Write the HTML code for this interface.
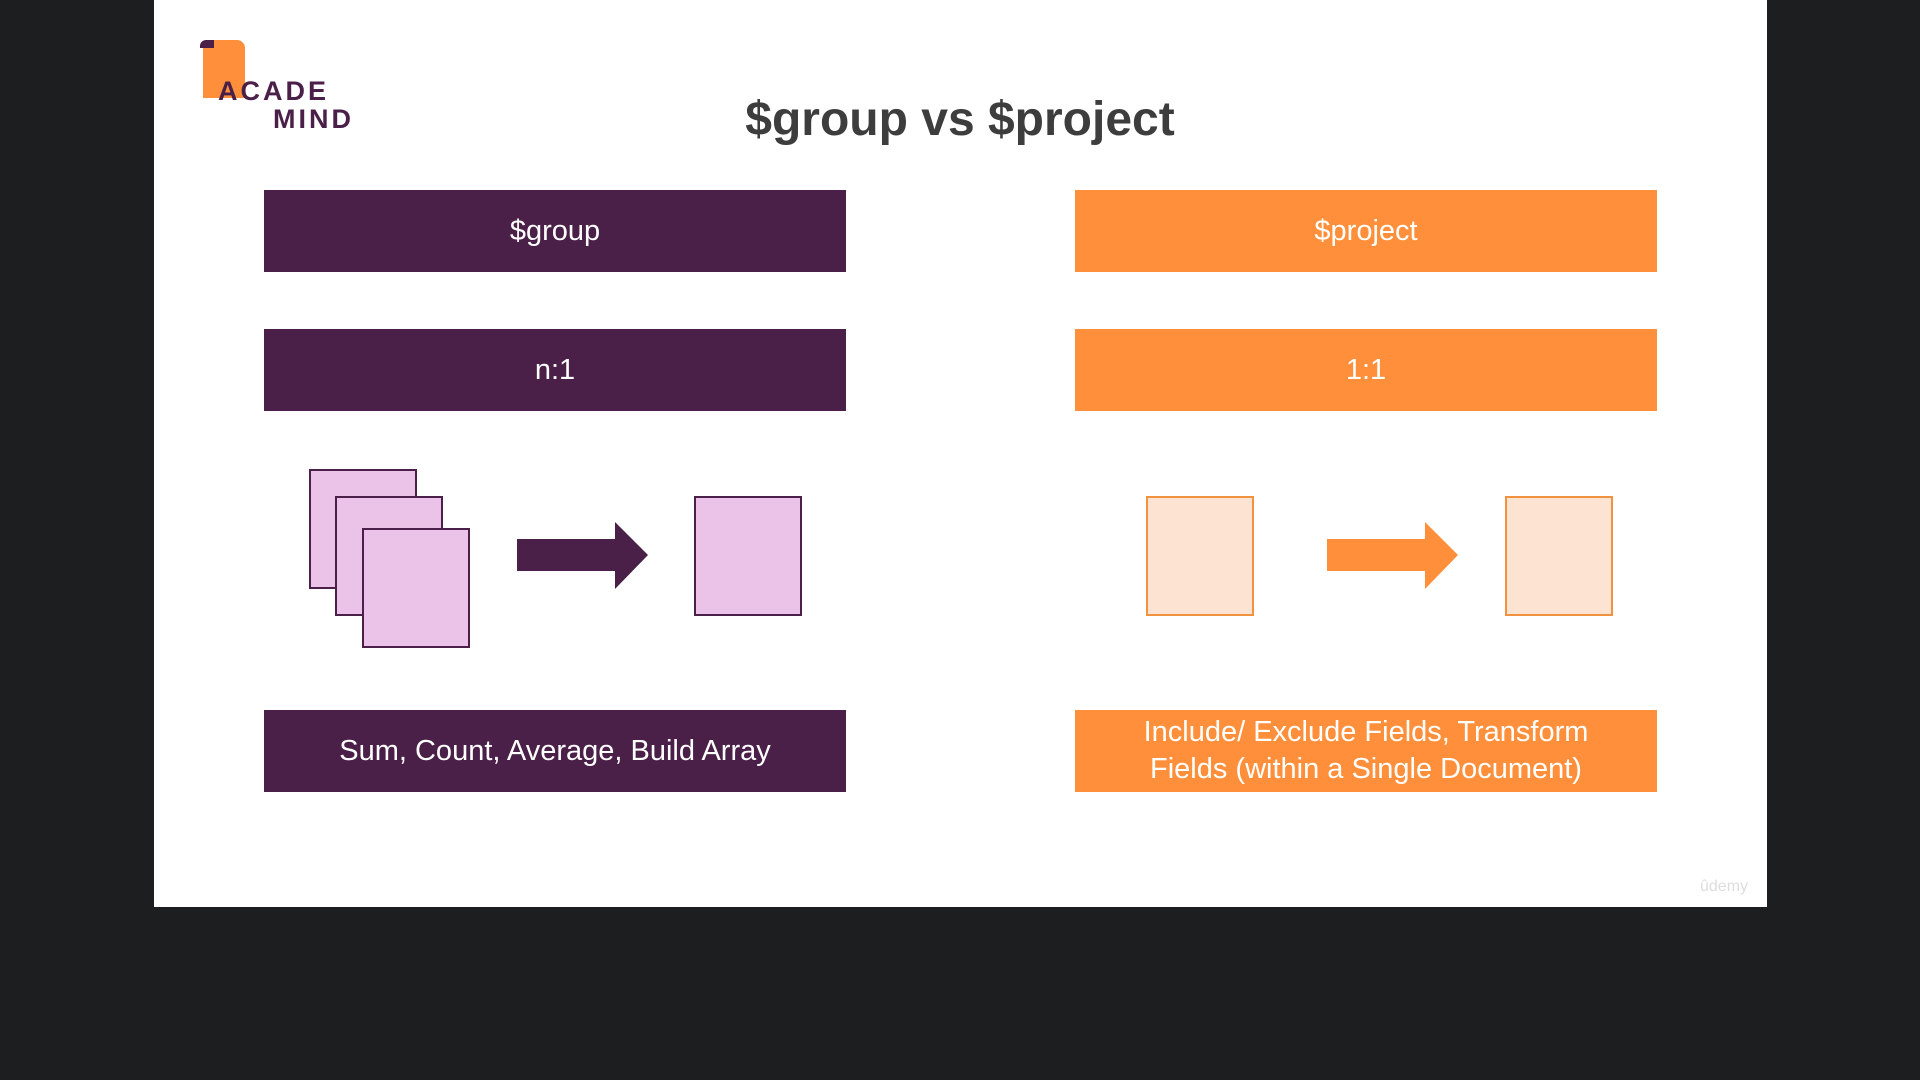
<!DOCTYPE html>
<html><head><meta charset="utf-8"><style>
html,body{margin:0;padding:0;width:1920px;height:1080px;background:#1d1e20;overflow:hidden;font-family:"Liberation Sans",sans-serif}
.slide{position:absolute;left:154px;top:0;width:1613px;height:907px;background:#fff}
.bar{position:absolute;width:582px;height:82px;color:#fff;font-size:29px;display:flex;align-items:center;justify-content:center;text-align:center;line-height:37px}
.p{background:#4a1f48}.o{background:#ff8f3a}
.box{position:absolute;box-sizing:border-box;border:2px solid #4a1f48;background:#ecc3e8}
.ob{position:absolute;box-sizing:border-box;border:2px solid #f0923f;background:#fde3d2}
</style></head><body>
<div class="slide"></div>
<div style="position:absolute;left:0;top:0;width:1920px;text-align:center;top:92px;font-size:48px;font-weight:bold;color:#3d3d3d">$group vs $project</div>
<div style="position:absolute;left:203px;top:40px;width:42px;height:58px;background:#ff8f3a;border-radius:8px 8px 0 0"></div>
<div style="position:absolute;left:200px;top:40px;width:14px;height:8px;background:#4a1f48;border-radius:6px 0 0 0"></div>
<div style="position:absolute;left:218px;top:76px;font-size:27px;font-weight:bold;color:#4a1f48;letter-spacing:3px">ACADE</div>
<div style="position:absolute;left:273px;top:104px;font-size:27px;font-weight:bold;color:#4a1f48;letter-spacing:3px">MIND</div>
<div class="bar p" style="left:264px;top:190px">$group</div>
<div class="bar p" style="left:264px;top:329px">n:1</div>
<div class="bar p" style="left:264px;top:710px">Sum, Count, Average, Build Array</div>
<div class="bar o" style="left:1075px;top:190px">$project</div>
<div class="bar o" style="left:1075px;top:329px">1:1</div>
<div class="bar o" style="left:1075px;top:710px">Include/ Exclude Fields, Transform<br>Fields (within a Single Document)</div>
<div class="box" style="left:309px;top:469px;width:108px;height:120px"></div>
<div class="box" style="left:335px;top:496px;width:108px;height:120px"></div>
<div class="box" style="left:362px;top:528px;width:108px;height:120px"></div>
<div class="box" style="left:694px;top:496px;width:108px;height:120px"></div>
<div class="ob" style="left:1146px;top:496px;width:108px;height:120px"></div>
<div class="ob" style="left:1505px;top:496px;width:108px;height:120px"></div>
<svg style="position:absolute;left:0;top:0" width="1920" height="1080">
<polygon points="517,539 615,539 615,522 648,555 615,589 615,571 517,571" fill="#4a1f48"/>
<polygon points="1327,539 1425,539 1425,522 1458,555 1425,589 1425,571 1327,571" fill="#ff8f3a"/>
</svg>
<div style="position:absolute;left:1700px;top:878px;font-size:16px;color:#ddd">ûdemy</div>
</body></html>
